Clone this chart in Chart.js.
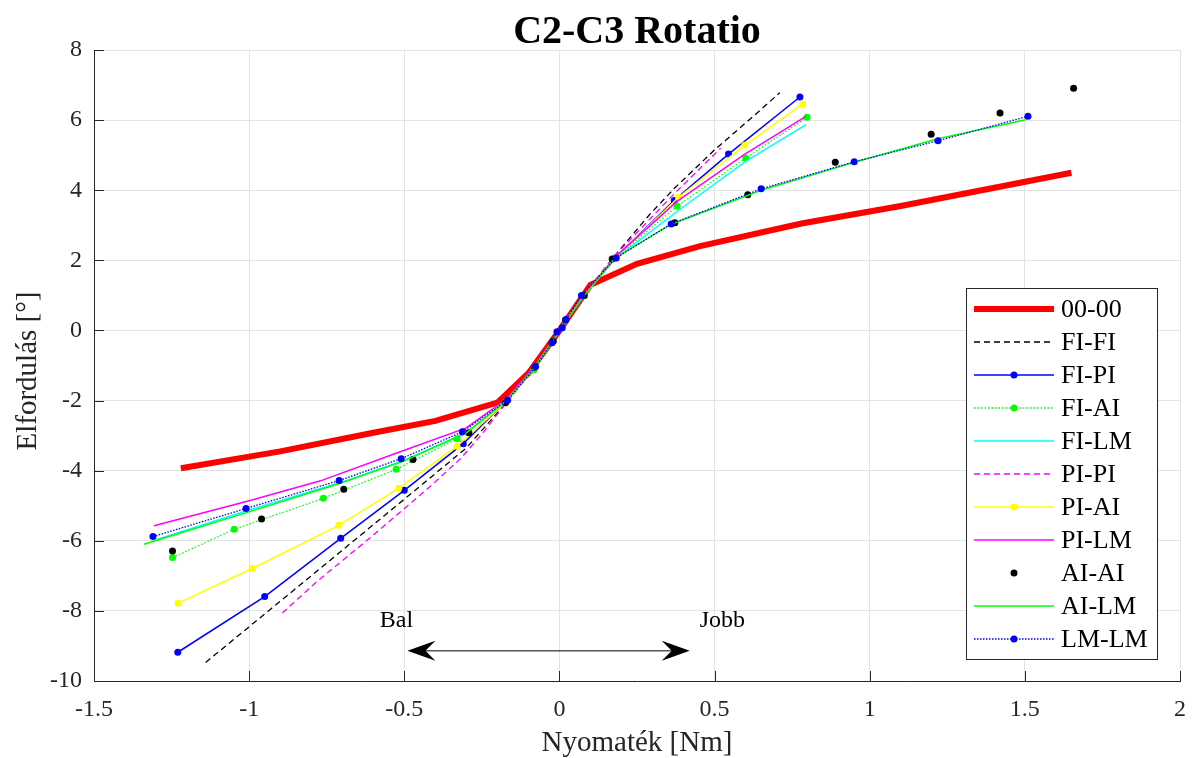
<!DOCTYPE html>
<html>
<head>
<meta charset="utf-8">
<script src="https://cdn.jsdelivr.net/npm/chart.js@4/dist/chart.umd.min.js"></script>
<style>
html,body{margin:0;padding:0;background:#fff;}
#wrap{width:1192px;height:758px;}
</style>
</head>
<body>
<div id="wrap"><canvas id="c" width="1192" height="758"></canvas></div>
<script>
// ---- Data ----
const seriesNames = ["00-00","FI-FI","FI-PI","FI-AI","FI-LM","PI-PI","PI-AI","PI-LM","AI-AI","AI-LM","LM-LM"];

const x_00_00 = [-1.22,-0.9,-0.6,-0.4,-0.2,-0.1,0,0.1,0.25,0.45,0.78,1.1,1.65];
const y_00_00 = [-3.93,-3.45,-2.92,-2.58,-2.06,-1.22,0,1.3,1.9,2.4,3.05,3.55,4.5];

const x_FI_FI = [-1.14,-0.8,-0.45,-0.3,-0.17,-0.08,0,0.08,0.18,0.29,0.37,0.5,0.63,0.71];
const y_FI_FI = [-9.47,-7.0,-4.45,-3.35,-2.05,-1.05,0,1.0,2.15,3.3,4.05,5.15,6.15,6.78];

const x_FI_PI = [-1.23,-0.95,-0.705,-0.5,-0.31,-0.17,-0.08,-0.02,0.02,0.08,0.18,0.37,0.545,0.775];
const y_FI_PI = [-9.18,-7.59,-5.93,-4.56,-3.23,-2.0,-1.05,-0.3,0.3,1.0,2.07,3.71,5.03,6.66];

const x_FI_AI = [-1.247,-1.048,-0.761,-0.526,-0.33,-0.17,-0.083,-0.02,0.02,0.08,0.18,0.379,0.6,0.798];
const y_FI_AI = [-6.48,-5.67,-4.79,-3.96,-3.09,-2.02,-1.13,-0.3,0.3,1.0,2.07,3.54,4.92,6.08];

const x_FI_LM = [-1.3,-1.0,-0.7,-0.5,-0.3,-0.17,-0.08,0,0.08,0.18,0.38,0.6,0.795];
const y_FI_LM = [-5.97,-5.12,-4.32,-3.7,-2.92,-2.0,-1.05,0,1.0,2.05,3.4,4.82,5.87];

const x_PI_PI = [-0.893,-0.78,-0.6,-0.415,-0.32,-0.25,-0.17,-0.08,0,0.08,0.18,0.37,0.52];
const y_PI_PI = [-8.06,-7.15,-5.84,-4.44,-3.67,-2.96,-2.05,-1.05,0,1.05,2.15,3.9,5.2];

const x_PI_AI = [-1.229,-0.99,-0.711,-0.518,-0.33,-0.17,-0.08,-0.02,0.02,0.08,0.18,0.384,0.597,0.784];
const y_PI_AI = [-7.78,-6.79,-5.56,-4.5,-3.3,-2.02,-1.05,-0.3,0.3,1.0,2.07,3.8,5.28,6.46];

const x_PI_LM = [-1.307,-1.0,-0.77,-0.52,-0.3,-0.17,-0.08,0,0.08,0.18,0.379,0.594,0.793];
const y_PI_LM = [-5.57,-4.86,-4.29,-3.48,-2.78,-1.95,-1.02,0,1.02,2.1,3.68,5.01,6.1];

const x_AI_AI = [-1.247,-0.96,-0.695,-0.472,-0.292,-0.174,-0.08,-0.02,0.02,0.08,0.17,0.372,0.607,0.889,1.198,1.42,1.657];
const y_AI_AI = [-6.29,-5.38,-4.53,-3.68,-2.92,-2.06,-1.05,-0.3,0.3,1.0,2.04,3.07,3.87,4.8,5.6,6.2,6.91];

const x_AI_LM = [-1.339,-1.006,-0.716,-0.5,-0.3,-0.17,-0.08,0,0.08,0.18,0.36,0.65,0.95,1.22,1.503];
const y_AI_LM = [-6.10,-5.19,-4.39,-3.72,-2.92,-2.0,-1.05,0,1.0,2.07,3.03,4.0,4.8,5.47,6.01];

const x_LM_LM = [-1.31,-1.01,-0.71,-0.51,-0.313,-0.167,-0.077,-0.024,-0.008,0.009,0.021,0.071,0.183,0.36,0.65,0.95,1.22,1.51];
const y_LM_LM = [-5.88,-5.08,-4.28,-3.66,-2.89,-1.99,-1.03,-0.35,-0.04,0.08,0.31,1.0,2.07,3.04,4.04,4.81,5.41,6.11];

const xTicks = [-1.5,-1,-0.5,0,0.5,1,1.5,2];
const yTicks = [-10,-8,-6,-4,-2,0,2,4,6,8];

const arrowX = [-0.49, 0.42];
const arrowY = [-9.14, -9.14];
const noteText = ["Bal","Jobb"];
const noteX = [-0.525, 0.525];
const noteY = [-8.46, -8.46];

const titleText = "C2-C3 Rotatio";
const xLabel = "Nyomaték [Nm]";
const yLabel = "Elfordulás [°]";

// ---- Build chart ----
const FONT = "'Liberation Serif','Times New Roman',serif";
const TXT = "#262626";
function pts(xs, ys){ return xs.map((x,i)=>({x:x,y:ys[i]})); }

const styles = [
  {c:"#ff0000", w:6, dash:[], r:0, line:true},
  {c:"#000000", w:1.3, dash:[6,4], r:0, line:true},
  {c:"#0000ff", w:1.5, dash:[], r:3.5, line:true},
  {c:"#00ff00", w:1.3, dash:[1.5,2], r:3.5, line:true},
  {c:"#00ffff", w:1.5, dash:[], r:0, line:true},
  {c:"#ff00ff", w:1.3, dash:[6,4], r:0, line:true},
  {c:"#ffff00", w:1.5, dash:[], r:3.5, line:true},
  {c:"#ff00ff", w:1.5, dash:[], r:0, line:true},
  {c:"#000000", w:1.5, dash:[], r:3.5, line:false},
  {c:"#00ff00", w:1.5, dash:[], r:0, line:true},
  {c:"#0000ff", w:1.3, dash:[1.5,1.5], r:3.5, line:true}
];
const dataSets = [
  pts(x_00_00,y_00_00), pts(x_FI_FI,y_FI_FI), pts(x_FI_PI,y_FI_PI), pts(x_FI_AI,y_FI_AI),
  pts(x_FI_LM,y_FI_LM), pts(x_PI_PI,y_PI_PI), pts(x_PI_AI,y_PI_AI), pts(x_PI_LM,y_PI_LM),
  pts(x_AI_AI,y_AI_AI), pts(x_AI_LM,y_AI_LM), pts(x_LM_LM,y_LM_LM)
];
const N = seriesNames.length;
const datasets = seriesNames.map((name,i)=>({
  label: name,
  data: dataSets[i],
  showLine: styles[i].line,
  borderColor: styles[i].c,
  backgroundColor: styles[i].c,
  borderWidth: styles[i].w,
  borderDash: styles[i].dash,
  pointRadius: styles[i].r,
  pointHoverRadius: styles[i].r,
  pointBackgroundColor: styles[i].c,
  pointBorderColor: styles[i].c,
  pointBorderWidth: 0,
  tension: 0,
  order: N-1-i
}));

const decor = {
  id: 'decor',
  afterDraw(chart){
    const ctx = chart.ctx;
    const xs = chart.scales.x, ys = chart.scales.y;
    const a = chart.chartArea;
    ctx.save();
    // inward ticks
    ctx.strokeStyle = TXT; ctx.lineWidth = 1;
    ctx.beginPath();
    xTicks.forEach(v=>{ const px = Math.round(xs.getPixelForValue(v))+0.5; ctx.moveTo(px,a.bottom); ctx.lineTo(px,a.bottom-10); });
    yTicks.forEach(v=>{ const py = Math.round(ys.getPixelForValue(v))+0.5; ctx.moveTo(a.left,py); ctx.lineTo(a.left+10,py); });
    ctx.stroke();

    // title
    ctx.fillStyle = "#000";
    ctx.font = "bold 40px " + FONT;
    ctx.textAlign = "center"; ctx.textBaseline = "alphabetic";
    ctx.fillText(titleText, (a.left+a.right)/2, 43);

    // axis labels
    ctx.fillStyle = TXT;
    ctx.font = "29px " + FONT;
    ctx.fillText(xLabel, (a.left+a.right)/2, 751);
    ctx.save();
    ctx.translate(36, 371);
    ctx.rotate(-Math.PI/2);
    ctx.fillText(yLabel, 0, 0);
    ctx.restore();

    // annotations
    ctx.fillStyle = "#000";
    ctx.font = "24px " + FONT;
    noteText.forEach((t,i)=>{
      ctx.fillText(t, xs.getPixelForValue(noteX[i]), ys.getPixelForValue(noteY[i]));
    });
    // double arrow
    const x1 = xs.getPixelForValue(arrowX[0]), x2 = xs.getPixelForValue(arrowX[1]);
    const ay = ys.getPixelForValue(arrowY[0]);
    ctx.strokeStyle = "#000"; ctx.lineWidth = 1;
    ctx.beginPath(); ctx.moveTo(x1+10, ay); ctx.lineTo(x2-10, ay); ctx.stroke();
    function head(tipX, dir){
      const L = 28, H = 10, back = 18;
      ctx.beginPath();
      ctx.moveTo(tipX, ay);
      ctx.lineTo(tipX + dir*L, ay - H);
      ctx.lineTo(tipX + dir*back, ay);
      ctx.lineTo(tipX + dir*L, ay + H);
      ctx.closePath();
      ctx.fill();
    }
    head(x1, 1); head(x2, -1);

    // legend
    const lx = 966, ly = 288, lw = 191, lh = 371, row = 33;
    ctx.fillStyle = "#fff";
    ctx.fillRect(lx, ly, lw, lh);
    ctx.strokeStyle = TXT; ctx.lineWidth = 1;
    ctx.strokeRect(lx+0.5, ly+0.5, lw, lh);
    ctx.font = "26px " + FONT;
    ctx.textAlign = "left"; ctx.textBaseline = "middle";
    seriesNames.forEach((name,i)=>{
      const cy = ly + 21 + i*row;
      const s = styles[i];
      if (s.line){
        ctx.strokeStyle = s.c; ctx.lineWidth = s.w;
        ctx.setLineDash(s.dash);
        ctx.beginPath(); ctx.moveTo(974, cy); ctx.lineTo(1054, cy); ctx.stroke();
        ctx.setLineDash([]);
      }
      if (s.r > 0){
        ctx.fillStyle = s.c;
        ctx.beginPath(); ctx.arc(1014, cy, s.r, 0, Math.PI*2); ctx.fill();
      }
      ctx.fillStyle = "#000";
      ctx.fillText(name, 1061, cy+1);
    });
    ctx.restore();
  }
};

Chart.defaults.font.family = FONT;
new Chart(document.getElementById('c'), {
  type: 'scatter',
  data: { datasets: datasets },
  options: {
    responsive: false,
    animation: false,
    devicePixelRatio: 1,
    layout: { padding: { top: 50, right: 12, left: 0, bottom: 0 } },
    plugins: { legend: { display: false }, title: { display: false }, tooltip: { enabled: false } },
    elements: { line: { tension: 0 } },
    scales: {
      x: {
        type: 'linear', min: -1.5, max: 2,
        afterBuildTicks: s => { s.ticks = xTicks.map(v=>({value:v})); },
        afterFit: s => { s.height = 77; s.paddingRight = 0; s.paddingLeft = 0; },
        ticks: { color: TXT, font: { size: 24, family: FONT }, padding: 14, maxRotation: 0,
                 callback: v => String(v) },
        grid: { color: '#e3e3e3', lineWidth: 1, drawTicks: false },
        border: { display: true, color: TXT, width: 1 }
      },
      y: {
        type: 'linear', min: -10, max: 8,
        afterBuildTicks: s => { s.ticks = yTicks.map(v=>({value:v})); },
        afterFit: s => { s.width = 94; s.paddingTop = 0; s.paddingBottom = 0; },
        ticks: { color: TXT, font: { size: 24, family: FONT }, padding: 12,
                 callback: v => String(v) },
        grid: { color: '#e3e3e3', lineWidth: 1, drawTicks: false },
        border: { display: true, color: TXT, width: 1 }
      }
    }
  },
  plugins: [decor]
});
</script>
</body>
</html>
